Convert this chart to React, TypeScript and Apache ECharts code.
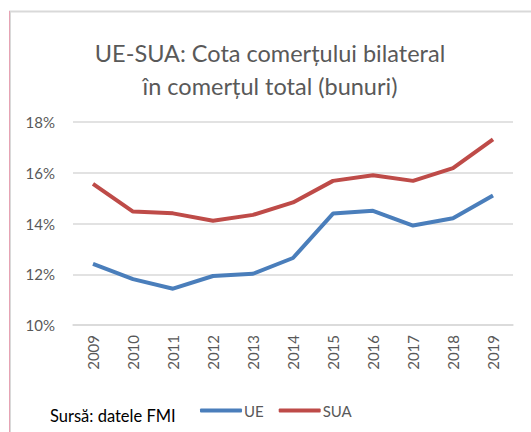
import React, { useEffect, useRef } from "react";
import * as echarts from "echarts";

const years = ["2009", "2010", "2011", "2012", "2013", "2014", "2015", "2016", "2017", "2018", "2019"];
const ueValues = [12.41, 11.81, 11.43, 11.93, 12.02, 12.64, 14.39, 14.5, 13.92, 14.21, 15.1];
const suaValues = [15.56, 14.47, 14.4, 14.11, 14.34, 14.83, 15.68, 15.9, 15.68, 16.18, 17.32];
const titleText = "UE-SUA: Cota comerțului bilateral\nîn comerțul total (bunuri)";
const sourceText = "Sursă: datele FMI";

export default function App() {
  const ref = useRef<HTMLDivElement>(null);
  useEffect(() => {
    if (!ref.current) return;
    const chart = echarts.init(ref.current, null, { renderer: "svg" });
    const font = "Lato";
    chart.setOption({
      animation: false,
      backgroundColor: "#ffffff",
      title: {
        text: titleText,
        left: 265,
        textAlign: "center",
        top: 31,
        textStyle: {
          fontFamily: font,
          fontSize: 23.5,
          fontWeight: "normal",
          color: "#595959",
          lineHeight: 33,
        },
      },
      grid: { left: 73, right: 18, top: 122, bottom: 107, containLabel: false },
      xAxis: {
        type: "category",
        data: years,
        boundaryGap: true,
        axisLine: { show: true, lineStyle: { color: "#d9d9d9", width: 1.5 } },
        axisTick: { show: false },
        axisLabel: {
          rotate: 90,
          margin: 10,
          fontFamily: font,
          fontSize: 15,
          color: "#595959",
        },
      },
      yAxis: {
        type: "value",
        min: 10,
        max: 18,
        interval: 2,
        axisLine: { show: false },
        axisTick: { show: false },
        splitLine: { lineStyle: { color: "#d9d9d9", width: 1.5 } },
        axisLabel: {
          formatter: "{value}%",
          margin: 18,
          fontFamily: font,
          fontSize: 15,
          color: "#595959",
        },
      },
      legend: {
        left: 195,
        top: 398,
        itemWidth: 42,
        itemHeight: 4,
        itemGap: 15,
        icon: "roundRect",
        textStyle: { fontFamily: font, fontSize: 15, color: "#595959", padding: [0, 0, 0, -3] },
        data: ["UE", "SUA"],
      },
      series: [
        {
          name: "UE",
          type: "line",
          data: ueValues,
          symbol: "none",
          lineStyle: { color: "#4a7ebb", width: 4 },
          itemStyle: { color: "#4a7ebb" },
        },
        {
          name: "SUA",
          type: "line",
          data: suaValues,
          symbol: "none",
          lineStyle: { color: "#be4b48", width: 4 },
          itemStyle: { color: "#be4b48" },
        },
      ],
      graphic: [
        { type: "line", shape: { x1: 9, y1: 11.5, x2: 531, y2: 11.5 }, style: { stroke: "#d9d9d9", lineWidth: 2 } },
        { type: "line", shape: { x1: 9.5, y1: 11, x2: 9.5, y2: 432 }, style: { stroke: "#e6a3b4", lineWidth: 1 } },
        { type: "line", shape: { x1: 10.5, y1: 11, x2: 10.5, y2: 432 }, style: { stroke: "#d9d9d9", lineWidth: 1 } },
        {
          type: "text",
          left: 50,
          top: 407,
          style: { text: sourceText, fontFamily: font, fontSize: 16.5, fill: "#000000" },
        },
      ],
    });
    return () => chart.dispose();
  }, []);
  return (
    <div
      ref={ref}
      style={{ position: "fixed", left: 0, top: 0, width: 531, height: 432 }}
    />
  );
}
